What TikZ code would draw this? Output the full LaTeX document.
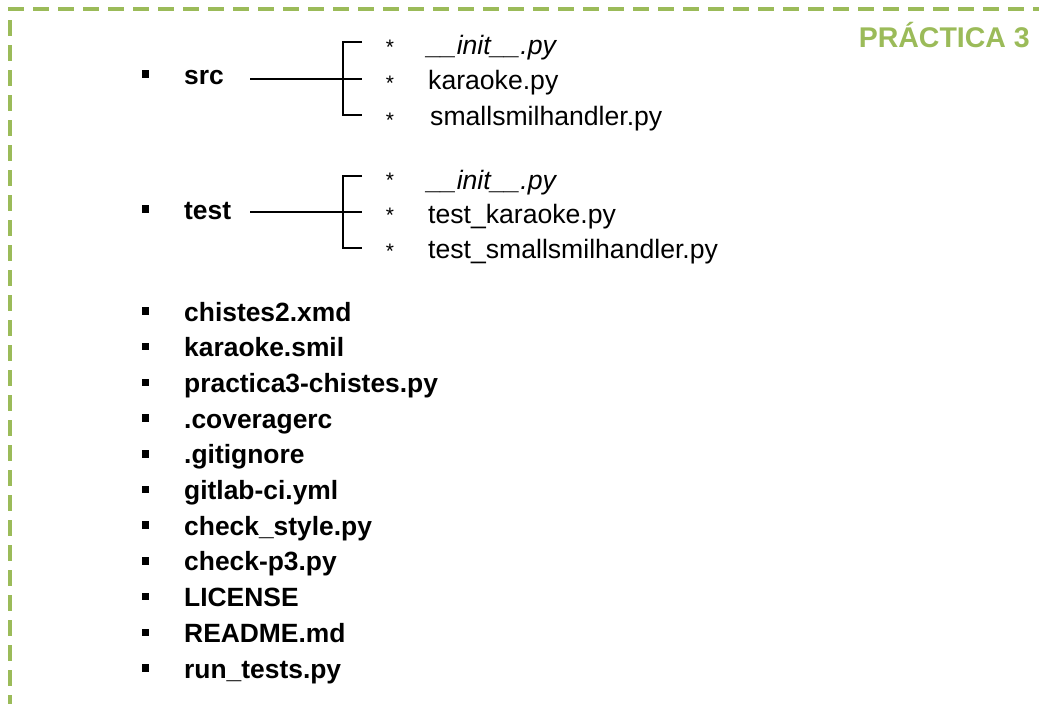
\documentclass[tikz,border=0pt]{standalone}
\usepackage{fontspec}
\setmainfont{Liberation Sans}
\definecolor{leafgreen}{HTML}{9BBB59}
\tikzset{
  entry/.style={anchor=base west, inner sep=0pt, font=\fontsize{26.4}{31}\selectfont\bfseries},
  leaf/.style={anchor=base west, inner sep=0pt, font=\fontsize{26.6}{31}\selectfont},
  sq/.style={fill=black, inner sep=0pt, minimum size=7.5pt},
  starmark/.style={anchor=base, inner sep=0pt, font=\fontsize{21}{24}\selectfont},
  tree/.style={line width=1.6pt},
  frame/.style={draw=leafgreen, line width=3.5pt, dash pattern=on 16pt off 9pt},
  title/.style={anchor=base east, inner sep=0pt, text=leafgreen, font=\fontsize{28.5}{33}\selectfont\bfseries}
}
\begin{document}
\begin{tikzpicture}[x=1pt, y=-1pt]
  \useasboundingbox (0,0) rectangle (1039,704);

  % dashed frame (top and left edges)
  \draw[frame] (8,9) -- (1039,9);
  \draw[frame] (10,20) -- (10,704);

  % title
  \node[title] (title) at (1030,47) {PRÁCTICA 3};

  % src folder
  \node[sq] (bsrc) at (145.5,74) {};
  \node[entry] (src) at (184,84) {src};
  \coordinate (srcA) at (250,79);
  \coordinate (srcT) at (343,42);
  \coordinate (srcB) at (343,115);
  \coordinate (srcT2) at (362,42);
  \coordinate (srcM2) at (362,79);
  \coordinate (srcB2) at (362,115);
  \draw[tree] (srcA) -- (srcM2);
  \draw[tree] (srcT2) -- (srcT) -- (srcB) -- (srcB2);
  \node[starmark] (s1) at (390,54) {*};
  \node[starmark] (s2) at (390,90) {*};
  \node[starmark] (s3) at (390,127) {*};
  \node[leaf] (f1) at (427,54) {\itshape \_\_init\_\_.py};
  \node[leaf] (f2) at (428,89) {karaoke.py};
  \node[leaf] (f3) at (430,125) {smallsmilhandler.py};

  % test folder
  \node[sq] (btest) at (145.5,209) {};
  \node[entry] (test) at (184,219) {test};
  \coordinate (tstA) at (250,212);
  \coordinate (tstT) at (343,176);
  \coordinate (tstB) at (343,248);
  \coordinate (tstT2) at (362,176);
  \coordinate (tstM2) at (362,212);
  \coordinate (tstB2) at (362,248);
  \draw[tree] (tstA) -- (tstM2);
  \draw[tree] (tstT2) -- (tstT) -- (tstB) -- (tstB2);
  \node[starmark] (t1) at (390,187) {*};
  \node[starmark] (t2) at (390,222) {*};
  \node[starmark] (t3) at (390,258) {*};
  \node[leaf] (g1) at (427,189) {\itshape \_\_init\_\_.py};
  \node[leaf] (g2) at (428,223) {test\_karaoke.py};
  \node[leaf] (g3) at (428,258) {test\_smallsmilhandler.py};

  % top-level files
  \foreach \name [count=\i from 0] in {chistes2.xmd, karaoke.smil, practica3-chistes.py,
      .coveragerc, .gitignore, gitlab-ci.yml, check\_style.py, check-p3.py,
      LICENSE, README.md, run\_tests.py} {
    \pgfmathsetmacro{\yy}{321+35.7*\i}
    \node[sq] (b\i) at (145.5,\yy-10) {};
    \node[entry] (e\i) at (184,\yy) {\name};
  }
\end{tikzpicture}
\end{document}
